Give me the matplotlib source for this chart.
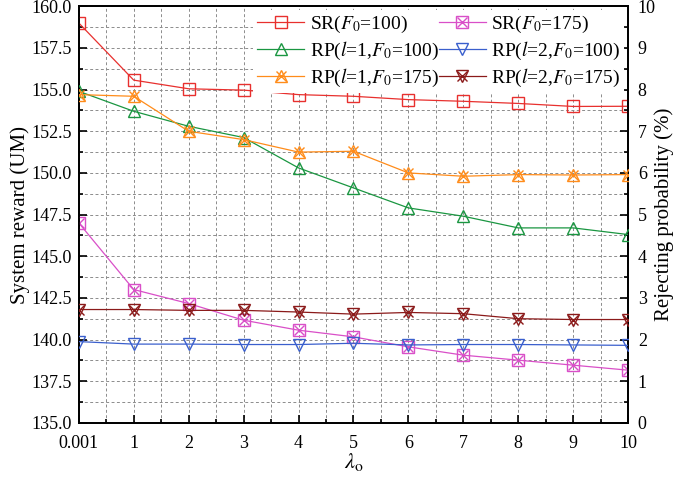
import matplotlib
matplotlib.use("Agg")
import matplotlib.pyplot as plt
from matplotlib.ticker import MultipleLocator, FormatStrFormatter
from matplotlib.lines import Line2D

lam_labels = ["0.001", "1", "2", "3", "4", "5", "6", "7", "8", "9", "10"]

# system reward (left axis)
sr_100 = [159.0, 155.57, 155.05, 154.97, 154.7, 154.6, 154.4, 154.3, 154.17, 153.99, 154.0]
sr_175 = [147.0, 143.0, 142.16, 141.16, 140.56, 140.16, 139.56, 139.06, 138.76, 138.46, 138.16]

# rejecting probability (right axis, %)
rp_l1_100 = [7.96, 7.48, 7.12, 6.85, 6.12, 5.64, 5.16, 4.96, 4.68, 4.68, 4.52]
rp_l2_100 = [1.95, 1.89, 1.89, 1.88, 1.88, 1.91, 1.87, 1.88, 1.88, 1.87, 1.86]
rp_l1_175 = [7.88, 7.84, 7.0, 6.8, 6.5, 6.52, 6.0, 5.92, 5.96, 5.95, 5.96]
rp_l2_175 = [2.72, 2.72, 2.70, 2.70, 2.66, 2.61, 2.65, 2.62, 2.50, 2.48, 2.48]

plt.rcParams["font.family"] = ["Liberation Serif", "DejaVu Serif"]
plt.rcParams["mathtext.fontset"] = "stix"

x = list(range(len(lam_labels)))

fig = plt.figure(figsize=(6.85, 4.86), dpi=100)
ax = fig.add_axes([0.115, 0.13, 0.802, 0.857])
ax2 = ax.twinx()

ms = 9
lw = 0.9

def plot_series(a, y, color, m1, m2=None):
    a.plot(x, y, "-", color=color, lw=lw, marker=m1, ms=ms, mfc="none", mec=color, mew=1.0, zorder=3)
    if m2:
        a.plot(x, y, ls="none", marker=m2, ms=ms * 0.8, mec=color, mew=1.0, zorder=3)

plot_series(ax, sr_100, "#e8302e", "s")
plot_series(ax, sr_175, "#d94fc8", "s", "x")
plot_series(ax2, rp_l1_100, "#1a9641", "^")
plot_series(ax2, rp_l2_100, "#3a5fcd", "v")
plot_series(ax2, rp_l1_175, "#ff8c1a", "^", "x")
plot_series(ax2, rp_l2_175, "#8b1a1a", "v", "x")

ax.set_xlim(0, 10)
ax.set_ylim(135, 160)
ax2.set_ylim(0, 10)
ax.set_xticks(x)
ax.set_xticklabels(lam_labels)
ax.xaxis.set_minor_locator(MultipleLocator(0.5))
ax.yaxis.set_major_locator(MultipleLocator(2.5))
ax.yaxis.set_minor_locator(MultipleLocator(1.25))
ax.yaxis.set_major_formatter(FormatStrFormatter("%.1f"))
ax2.yaxis.set_major_locator(MultipleLocator(1))
ax2.yaxis.set_minor_locator(MultipleLocator(0.5))

for a in (ax, ax2):
    a.tick_params(which="both", direction="in", labelsize=13, width=1.2)
    a.tick_params(which="major", length=6)
    a.tick_params(which="minor", length=3)
    for s in a.spines.values():
        s.set_linewidth(1.3)
ax.tick_params(axis="x", which="major", pad=9)
ax.tick_params(axis="y", which="major", pad=5)
ax2.tick_params(axis="y", which="major", pad=7)

ax.grid(True, which="both", ls=(0, (3, 2.5)), color="#8c8c8c", lw=0.7)
ax.set_axisbelow(True)

ax.set_xlabel(r"$\lambda_{\rm o}$", fontsize=16, labelpad=-1)
ax.set_ylabel("System reward (UM)", fontsize=15, labelpad=1)
ax2.set_ylabel("Rejecting probability (%)", fontsize=15, labelpad=-1)

def handle(color, m1, m2=None):
    if m2:
        return (Line2D([], [], color=color, lw=lw, marker=m1, ms=ms, mfc="none", mec=color),
                Line2D([], [], ls="none", marker=m2, ms=ms * 0.8, mec=color))
    return Line2D([], [], color=color, lw=lw, marker=m1, ms=ms, mfc="none", mec=color)

handles = [handle("#e8302e", "s"), handle("#1a9641", "^"), handle("#ff8c1a", "^", "x"),
           handle("#d94fc8", "s", "x"), handle("#3a5fcd", "v"), handle("#8b1a1a", "v", "x")]
labels = [r"SR($F_0$=100)", r"RP($l$=1,$F_0$=100)", r"RP($l$=1,$F_0$=175)",
          r"SR($F_0$=175)", r"RP($l$=2,$F_0$=100)", r"RP($l$=2,$F_0$=175)"]
leg = ax2.legend(handles, labels, ncol=2, loc="upper right", fontsize=14, frameon=True,
                 fancybox=False, edgecolor="none", framealpha=1, handlelength=2.4,
                 columnspacing=0.0, handletextpad=0.3, labelspacing=0.25,
                 borderaxespad=0.2, borderpad=0.2)

fig.savefig("out.png", dpi=100)
